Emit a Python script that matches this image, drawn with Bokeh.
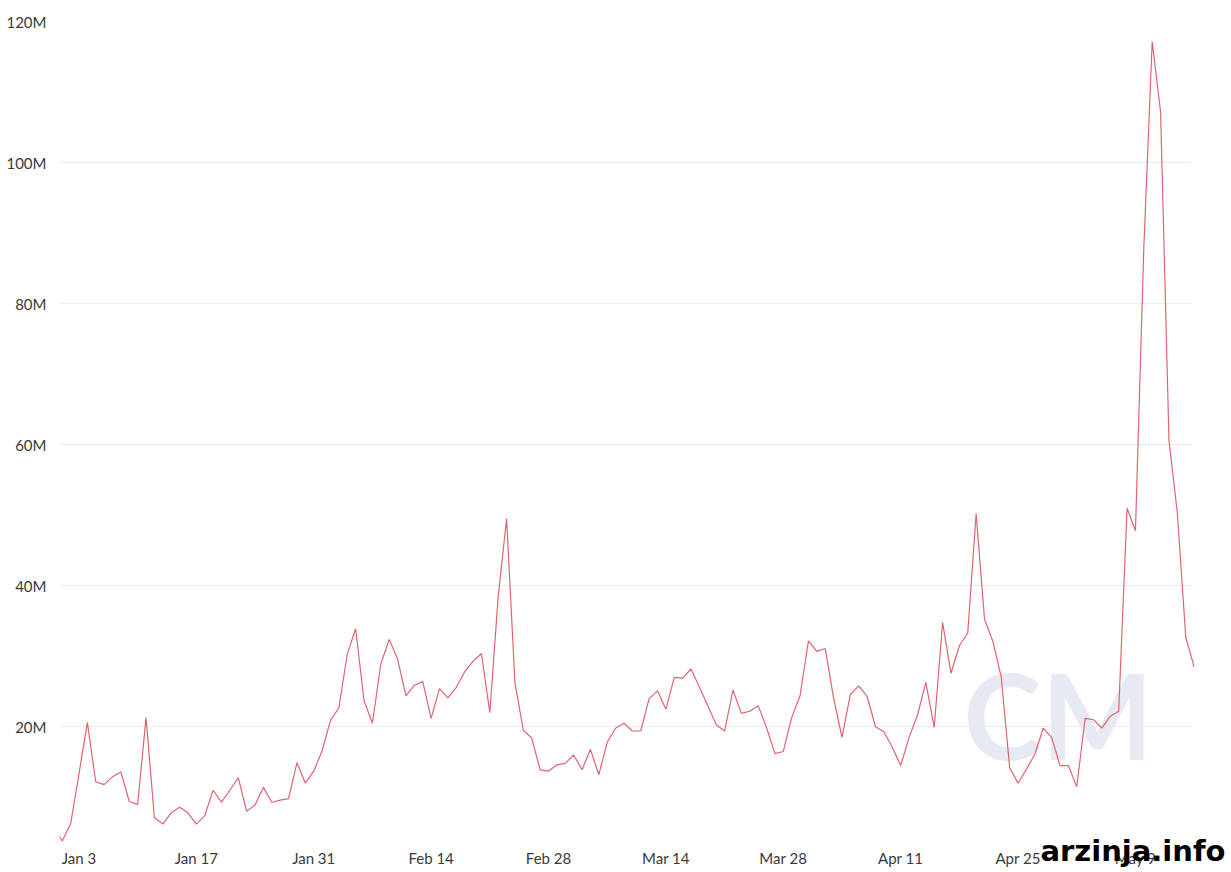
import pandas as pd
from bokeh.plotting import figure
from bokeh.models import (FixedTicker, PrintfTickFormatter, DatetimeTickFormatter,
                          Range1d, Label, ColumnDataSource)
from bokeh.embed import file_html
from bokeh.resources import INLINE

# ---- data (values in millions, daily from start_date) ----
start_date = "2021-12-31"
values_m = [
    5.6,                                                       # Dec 31
    3.8, 6.2, 13.3, 20.6, 12.2, 11.8, 12.9, 13.6, 9.4, 9.0,    # Jan 1-10
    21.3, 7.1, 6.2, 7.8, 8.6, 7.8, 6.2, 7.4, 11.0, 9.3,        # Jan 11-20
    11.0, 12.8, 8.0, 8.9, 11.4, 9.3, 9.6, 9.8, 14.9, 12.0,     # Jan 21-30
    13.7,                                                      # Jan 31
    16.6, 20.9, 22.7, 30.3, 33.9, 23.7, 20.5, 28.9, 32.4, 29.6,  # Feb 1-10
    24.4, 25.9, 26.4, 21.2, 25.4, 24.1, 25.6, 27.8, 29.3, 30.4,  # Feb 11-20
    22.0, 38.5, 49.5, 26.2, 19.5, 18.4, 13.9, 13.7,              # Feb 21-28
    14.6, 14.8, 16.0, 13.9, 16.8, 13.2, 17.8, 19.8, 20.5, 19.4,  # Mar 1-10
    19.4, 24.0, 25.1, 22.5, 27.0, 26.9, 28.2, 25.6, 23.0, 20.3,  # Mar 11-20
    19.4, 25.2, 21.9, 22.2, 23.0, 19.9, 16.2, 16.5, 21.3, 24.4,  # Mar 21-30
    32.2,                                                        # Mar 31
    30.7, 31.1, 24.1, 18.5, 24.6, 25.8, 24.3, 20.0, 19.3, 17.1,  # Apr 1-10
    14.5, 18.5, 21.6, 26.3, 19.9, 34.8, 27.6, 31.5, 33.3, 50.2,  # Apr 11-20
    35.3, 32.1, 27.0, 14.2, 12.0, 14.0, 16.1, 19.8, 18.5, 14.5,  # Apr 21-30
    14.5, 11.5, 21.2, 21.0, 19.8, 21.5, 22.2, 51.0, 47.8, 88.0,  # May 1-10
    117.2, 107.2, 60.6, 50.3, 32.7, 28.5,                        # May 11-16
]
tick_dates = ["2022-01-03", "2022-01-17", "2022-01-31", "2022-02-14", "2022-02-28",
              "2022-03-14", "2022-03-28", "2022-04-11", "2022-04-25", "2022-05-09"]
y_ticks = [20, 40, 60, 80, 100, 120]
grid_ticks = [20, 40, 60, 80, 100]
watermark_text = "arzinja.info"
logo_text = "CM"

dates = pd.date_range(start_date, periods=len(values_m), freq="D")
src = ColumnDataSource(dict(date=dates, value=values_m))

x_start = pd.Timestamp("2022-01-01") - pd.Timedelta(hours=7.7)
x_end = x_start + pd.Timedelta(days=139.18)
grid_end = x_start + pd.Timedelta(days=135.0)

p = figure(frame_width=1167, frame_height=846, x_axis_type="datetime",
           x_range=Range1d(x_start, x_end), y_range=Range1d(0.04, 120.04),
           output_backend="svg", toolbar_location=None,
           min_border_left=59, min_border_right=0, min_border_top=21,
           min_border_bottom=0, outline_line_color=None,
           background_fill_color="white", border_fill_color="white")

# faint logo behind the line
p.add_layout(Label(x=904, y=83, x_units="screen", y_units="screen", text=logo_text,
                   text_font="Lato", text_font_size="118px", text_font_style="bold",
                   text_color="#e7e9f3", level="underlay"))

p.line("date", "value", source=src, line_color="#e06470", line_width=1.2)

# axes
tick_ms = [pd.Timestamp(d).value // 10**6 for d in tick_dates]
xa = p.xaxis[0]
xa.ticker = FixedTicker(ticks=tick_ms)
fmt = "%b %-d"
xa.formatter = DatetimeTickFormatter(days=fmt, months=fmt, years=fmt, hours=fmt,
                                     minutes=fmt, seconds=fmt, milliseconds=fmt,
                                     microseconds=fmt, minsec=fmt, hourmin=fmt)
ya = p.yaxis[0]
ya.ticker = FixedTicker(ticks=y_ticks)
ya.formatter = PrintfTickFormatter(format="%dM")
for ax in (xa, ya):
    ax.axis_line_color = None
    ax.major_tick_line_color = None
    ax.minor_tick_line_color = None
    ax.major_tick_out = 0
    ax.major_tick_in = 0
    ax.major_label_text_font = "Lato"
    ax.major_label_text_font_size = "15px"
    ax.major_label_text_color = "#3a3a3a"
xa.major_label_standoff = -19
ya.major_label_standoff = 13

p.xgrid.grid_line_color = None
p.ygrid.ticker = FixedTicker(ticks=grid_ticks)
p.ygrid.cross_bounds = (x_start.value // 10**6, grid_end.value // 10**6)
p.ygrid.grid_line_color = "#ececec"
p.ygrid.grid_line_width = 1

p.add_layout(Label(x=981, y=0, x_units="screen", y_units="screen", text=watermark_text,
                   text_font="DejaVu Sans", text_font_size="29px", text_font_style="bold",
                   text_color="black"))

open("out.html", "w").write(file_html(p, INLINE))
